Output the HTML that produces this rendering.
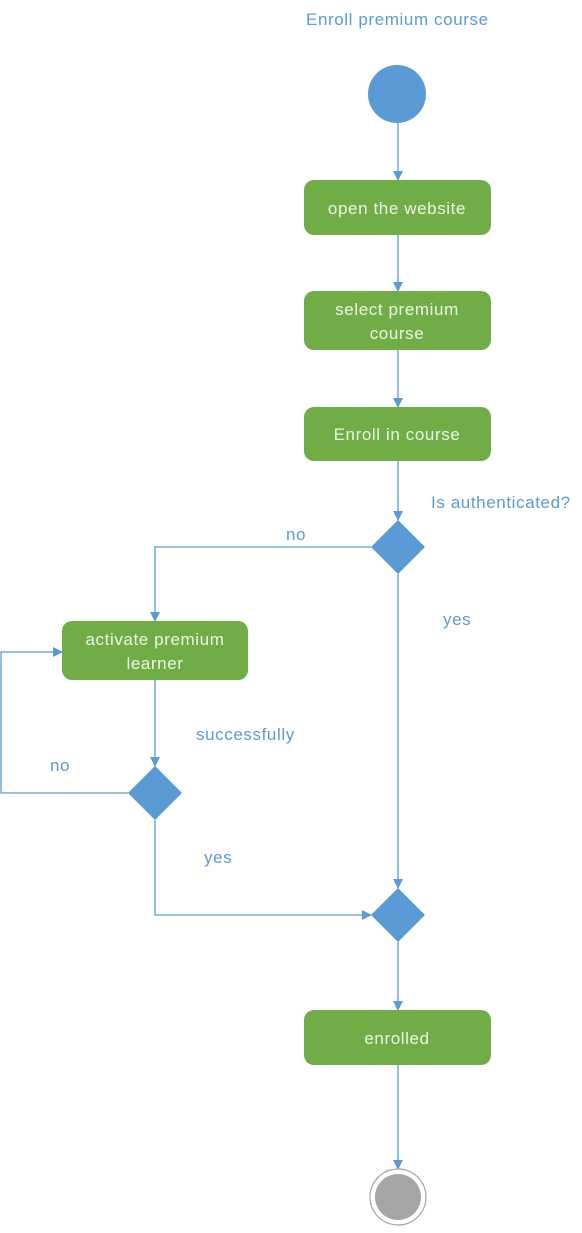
<!DOCTYPE html>
<html><head><style>
body{margin:0;background:#fff;width:582px;height:1228px;overflow:hidden}
text{font-family:"Liberation Sans",sans-serif;letter-spacing:0.6px}
</style></head><body>
<svg width="582" height="1228" xmlns="http://www.w3.org/2000/svg">
<defs><marker id="a" markerWidth="10" markerHeight="10" refX="9" refY="5" orient="auto" markerUnits="userSpaceOnUse"><path d="M0,0 L10,5 L0,10 z" fill="#5b9bd5"/></marker></defs>
<g stroke="#5b9bd5" stroke-width="1.3" fill="none" marker-end="url(#a)">
<path d="M398,123 V180"/>
<path d="M398,235 V291"/>
<path d="M398,350 V407"/>
<path d="M398,461 V520"/>
<path d="M371,547 H155 V621"/>
<path d="M155,680 V766"/>
<path d="M128,793 H1 V652 H62"/>
<path d="M155,820 V915 H371"/>
<path d="M398,574 V888"/>
<path d="M398,942 V1010"/>
<path d="M398,1065 V1169"/>
</g>
<circle cx="397" cy="94" r="29" fill="#5b9bd5"/>
<g fill="#70ad47">
<rect x="304" y="180" width="187" height="55" rx="10"/>
<rect x="304" y="291" width="187" height="59" rx="10"/>
<rect x="304" y="407" width="187" height="54" rx="10"/>
<rect x="62" y="621" width="186" height="59" rx="10"/>
<rect x="304" y="1010" width="187" height="55" rx="10"/>
</g>
<g fill="#5b9bd5">
<path d="M398,520 L425,547 L398,574 L371,547z"/>
<path d="M155,766 L182,793 L155,820 L128,793z"/>
<path d="M398,888 L425,915 L398,942 L371,915z"/>
</g>
<circle cx="398" cy="1197" r="28" fill="#fff" stroke="#a5a5a5" stroke-width="1.2"/>
<circle cx="398" cy="1197" r="23" fill="#a5a5a5"/>
<g fill="#eef6e6" font-size="17" text-anchor="middle">
<text x="397" y="214">open the website</text>
<text x="397" y="315">select premium</text>
<text x="397" y="339">course</text>
<text x="397" y="440">Enroll in course</text>
<text x="155" y="645">activate premium</text>
<text x="155" y="669">learner</text>
<text x="397" y="1044">enrolled</text>
</g>
<g fill="#5b9bd5" font-size="17">
<text x="306" y="25">Enroll premium course</text>
<text x="431" y="508">Is authenticated?</text>
<text x="286" y="540">no</text>
<text x="443" y="625">yes</text>
<text x="196" y="740">successfully</text>
<text x="50" y="771">no</text>
<text x="204" y="863">yes</text>
</g>
</svg>
</body></html>
